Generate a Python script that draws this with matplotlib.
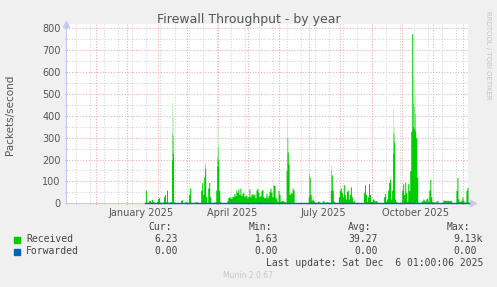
import numpy as np
import pandas as pd
import matplotlib
matplotlib.use('Agg')
import matplotlib.pyplot as plt
from matplotlib.patches import Rectangle

# daily received packets/second, starting at data_start
data_start = '2025-01-19'
received = [
    60, 5, 4, 12, 14, 6, 18, 8, 5, 4,
    3, 8, 22, 26, 5, 3, 4, 5, 30, 40,
    8, 60, 5, 4, 6, 8, 200, 230, 6, 4,
    3, 3, 2, 2, 2, 14, 16, 4, 3, 5,
    10, 4, 3, 40, 70, 5, 3, 3, 4, 6,
    7, 6, 5, 4, 3, 60, 95, 40, 120, 160,
    30, 5, 70, 95, 30, 5, 4, 3, 5, 6,
    60, 170, 200, 60, 8, 2, 1, 0, 0, 0,
    0, 12, 25, 30, 28, 22, 32, 30, 45, 35,
    60, 50, 66, 40, 69, 35, 45, 50, 30, 36,
    38, 25, 32, 66, 30, 40, 45, 38, 42, 25,
    61, 69, 50, 30, 35, 58, 63, 30, 25, 28,
    46, 25, 36, 55, 69, 50, 30, 85, 81, 28,
    20, 8, 60, 40, 10, 12, 13, 10, 8, 5,
    150, 230, 180, 40, 50, 45, 70, 60, 0, 0,
    0, 0, 0, 0, 0, 0, 0, 0, 0, 0,
    0, 0, 30, 120, 40, 15, 20, 12, 5, 3,
    4, 8, 10, 6, 4, 3, 12, 10, 5, 4,
    8, 6, 3, 4, 60, 130, 60, 10, 5, 4,
    3, 4, 30, 60, 70, 50, 30, 85, 40, 20,
    55, 60, 20, 40, 75, 30, 10, 12, 5, 0,
    0, 0, 0, 0, 0, 0, 0, 50, 85, 40,
    10, 30, 90, 40, 8, 10, 20, 15, 10, 12,
    10, 3, 4, 0, 0, 0, 3, 30, 45, 10,
    20, 60, 95, 110, 20, 60, 230, 280, 20, 8,
    5, 3, 4, 2, 5, 60, 90, 40, 96, 50,
    10, 90, 60, 150, 330, 775, 350, 340, 330, 300,
    120, 5, 4, 3, 8, 12, 20, 15, 10, 20,
    25, 10, 60, 110, 30, 8, 5, 6, 4, 10,
    14, 5, 3, 2, 3, 4, 15, 14, 13, 12,
    14, 13, 12, 14, 10, 3, 2, 3, 4, 60,
    118, 20, 8, 10, 15, 28, 12, 5, 6, 60,
    73, 6,
]

# faint tops of the tall spikes
peak_dates = ['2025-02-14', '2025-02-15', '2025-03-19', '2025-03-31', '2025-04-01',
              '2025-06-09', '2025-06-10', '2025-07-01', '2025-07-23', '2025-09-22',
              '2025-09-23', '2025-10-12', '2025-10-13', '2025-10-14']
peak_values = [460, 400, 190, 250, 330, 380, 300, 150, 175, 430, 350, 580, 560, 500]

xtick_labels = ['January 2025', 'April 2025', 'July 2025', 'October 2025']
xtick_dates = ['2025-01-15', '2025-04-15', '2025-07-15', '2025-10-15']

legend_names = ['Received', 'Forwarded']
legend_colors = ['#00cc00', '#0066b3']
cur = ['6.23', '0.00']
mins = ['1.63', '0.00']
avgs = ['39.27', '0.00']
maxs = ['9.13k', '0.00']

W, H = 497, 287
fig = plt.figure(figsize=(W / 100, H / 100), dpi=100, facecolor='#f0f0f0')

def fx(x):
    return x / W

def fy(y):
    return 1 - y / H

ax = fig.add_axes([fx(66), fy(203.3), 402 / W, 179.4 / H])
ax.set_facecolor('white')
x0 = pd.Timestamp('2024-11-01')
x1 = pd.Timestamp('2025-12-06')
ax.set_xlim(x0, x1)
ax.set_ylim(0, 820)

# grid
dots = (0, (1, 1.5))
for y in range(50, 801, 50):
    col = '#eab0b0' if y % 100 == 0 else '#d6d6d6'
    ax.axhline(y, color=col, lw=0.8, ls=dots, zorder=1)
biweekly = pd.date_range('2024-11-11', x1, freq='14D')
months = pd.date_range('2024-12-01', x1, freq='MS')
for d in biweekly:
    ax.axvline(d, color='#d6d6d6', lw=0.8, ls=dots, zorder=1)
for d in months:
    ax.axvline(d, color='#eab0b0', lw=0.8, ls=dots, zorder=1)

# data: faded spike tops (light -> lighter going up), then solid area
edges = pd.date_range(data_start, periods=len(received) + 1, freq='D')
pk_x = pd.to_datetime(peak_dates)
ax.bar(pk_x, peak_values, width=1, align='edge', color='#c8f2c8', lw=0, zorder=2)
core = dict(zip(edges[:-1], received))
mid = [c + (p - c) * 0.45 for c, p in zip([core.get(d, 0) for d in pk_x], peak_values)]
ax.bar(pk_x, mid, width=1, align='edge', color='#7ee07e', lw=0, zorder=2.2)
ax.fill_between(edges, np.append(received, received[-1]), step='post',
                color='#00cc00', lw=0, zorder=3)
ax.plot(edges, np.zeros(len(edges)), color='#0066b3', lw=1, zorder=4, clip_on=False)

# axes
for s in ['top', 'right']:
    ax.spines[s].set_visible(False)
for s in ['left', 'bottom']:
    ax.spines[s].set_color('#c8c8f4')
    ax.spines[s].set_zorder(3.5)
ax.set_xticks(months)
ax.set_xticks(biweekly, minor=True)
ax.set_xticklabels([])
ax.tick_params(axis='x', which='major', colors='#e08080', length=2, direction='inout')
ax.tick_params(axis='x', which='minor', colors='#b0b0b0', length=2, direction='inout')
ax.set_yticks(range(0, 801, 100))
ax.set_yticks(range(50, 801, 100), minor=True)
ax.tick_params(axis='y', which='major', colors='#e08080', length=2, direction='inout',
               labelcolor='#555555', labelsize=7, pad=3)
ax.tick_params(axis='y', which='minor', colors='#b0b0b0', length=2, direction='inout')
ax.plot([0], [1.0], marker='^', ms=4, color='#c8c8f4', transform=ax.transAxes, clip_on=False)
ax.plot([1.012], [0], marker='>', ms=4, color='#c8c8f4', transform=ax.transAxes, clip_on=False)

for lab, d in zip(xtick_labels, xtick_dates):
    ax.text(pd.Timestamp(d), -0.055, lab, transform=ax.get_xaxis_transform(),
            ha='center', va='center', fontsize=7, color='#555555')

fig.text(fx(249), fy(19), 'Firewall Throughput - by year', ha='center', va='center',
         fontsize=9, color='#555555')
fig.text(fx(10), fy(115), 'Packets/second', rotation=90, ha='center', va='center',
         fontsize=7.5, color='#555555')
fig.text(fx(488), fy(55), 'RRDTOOL / TOBI OETIKER', rotation=270, ha='center', va='center',
         fontsize=5, color='#c4c4c4')

# legend / stats
mono = 'DejaVu Sans Mono'
tc = '#444444'
for xr, h in zip([172, 272, 371, 470], ['Cur:', 'Min:', 'Avg:', 'Max:']):
    fig.text(fx(xr), fy(227), h, ha='right', va='center', family=mono, fontsize=7, color=tc)
for i, name in enumerate(legend_names):
    yy = 239.5 + i * 12
    fig.patches.append(Rectangle((fx(14), fy(yy + 3)), 6 / W, 6 / H, color=legend_colors[i],
                                 transform=fig.transFigure, figure=fig))
    fig.text(fx(26), fy(yy), name, ha='left', va='center', family=mono, fontsize=7, color=tc)
    for xr, v in zip([178, 278, 378, 483 if i == 0 else 477], [cur[i], mins[i], avgs[i], maxs[i]]):
        fig.text(fx(xr), fy(yy), v, ha='right', va='center', family=mono, fontsize=7, color=tc)
fig.text(fx(483), fy(263), 'Last update: Sat Dec  6 01:00:06 2025', ha='right', va='center',
         family=mono, fontsize=7, color=tc)
fig.text(fx(248), fy(276), 'Munin 2.0.67', ha='center', va='center', fontsize=5.5, color='#c8c8c8')

fig.savefig('out.png', dpi=100, facecolor=fig.get_facecolor())
